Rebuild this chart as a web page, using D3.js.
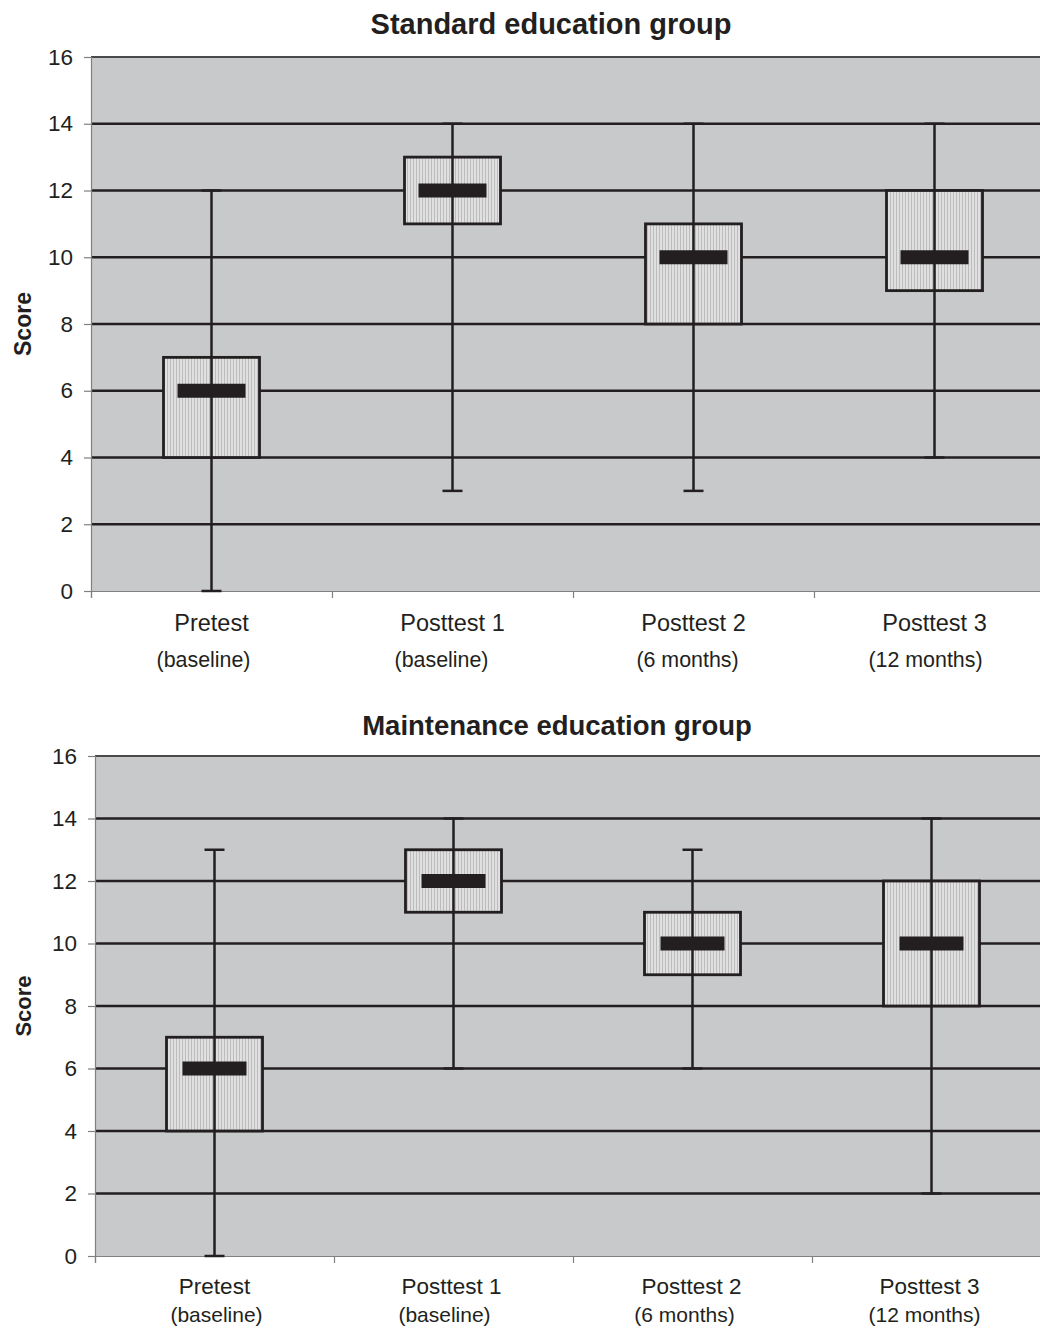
<!DOCTYPE html>
<html><head><meta charset="utf-8">
<script src="https://cdn.jsdelivr.net/npm/d3@7"></script>
<style>body{margin:0;background:#fff;}svg{display:block;font-family:"Liberation Sans",Arial,sans-serif;}</style>
</head><body>
<svg id="c" width="1040" height="1328"></svg>
<script>
const categories = ["Pretest","Posttest 1","Posttest 2","Posttest 3"];
const subLabels = ["(baseline)","(baseline)","(6 months)","(12 months)"];
const yTicks = [0,2,4,6,8,10,12,14,16];
// [min, q1, median, q3, max]
const standardStats = [[0,4,6,7,12],[3,11,12,13,14],[3,8,10,11,14],[4,9,10,12,14]];
const maintenanceStats = [[0,4,6,7,13],[6,11,12,13,14],[6,9,10,11,13],[2,8,10,12,14]];
const titles = ["Standard education group","Maintenance education group"];

const svg = d3.select("#c");
const defs = svg.append("defs");
const pat = defs.append("pattern").attr("id","stripe").attr("patternUnits","userSpaceOnUse").attr("width",3).attr("height",4);
pat.append("rect").attr("width",3).attr("height",4).attr("fill","#e0e0e0");
pat.append("rect").attr("x",2).attr("width",1).attr("height",4).attr("fill","#bcbcbc");

function panel(cfg){
  const g = svg.append("g");
  const x = d3.scaleBand().domain(categories).range([cfg.left, cfg.left+4*cfg.step]);
  const y = d3.scaleLinear().domain([0,16]).range([cfg.bottom, cfg.top]);
  g.append("rect").attr("x",cfg.left).attr("y",cfg.top).attr("width",1040-cfg.left).attr("height",cfg.bottom-cfg.top).attr("fill","#c8c9cb");
  g.selectAll(".grid").data(yTicks.filter(t=>t>0&&t<16)).join("line")
    .attr("x1",cfg.left).attr("x2",1040).attr("y1",d=>y(d)).attr("y2",d=>y(d))
    .attr("stroke","#231f20").attr("stroke-width",2.5);
  g.append("line").attr("x1",cfg.left).attr("x2",1040).attr("y1",y(16)).attr("y2",y(16)).attr("stroke","#4a4a4a").attr("stroke-width",2);
  const ya = g.append("g").attr("transform",`translate(${cfg.left},0)`)
    .call(d3.axisLeft(y).tickValues(yTicks).tickSize(7).tickPadding(cfg.tickPad).tickFormat(d3.format("d")));
  ya.attr("font-size",null).attr("font-family",null);
  ya.select(".domain").attr("stroke","#808080").attr("stroke-width",1.2);
  ya.selectAll(".tick line").attr("stroke","#808080").attr("stroke-width",1.2);
  ya.selectAll("text").style("font-size","22.5px").attr("fill","#231f20");
  const xa = g.append("g").attr("transform",`translate(0,${cfg.bottom})`)
    .call(d3.axisBottom(d3.scaleLinear().domain([0,4]).range([cfg.left,cfg.left+4*cfg.step])).tickValues([0,1,2,3,4]).tickSize(7).tickFormat(""));
  xa.select(".domain").attr("stroke","#808080").attr("stroke-width",1.2);
  xa.selectAll(".tick line").attr("stroke","#808080").attr("stroke-width",1.2);
  g.selectAll(".cl").data(categories).join("text")
    .attr("x",(d,i)=>x(d)+x.bandwidth()/2+cfg.mainOff[i]).attr("y",cfg.bottom+cfg.lab1)
    .attr("text-anchor","middle").attr("font-size",cfg.labSize1).attr("fill","#231f20").text(d=>d);
  g.selectAll(".sl").data(subLabels).join("text")
    .attr("x",(d,i)=>x(categories[i])+x.bandwidth()/2+cfg.subOff[i]).attr("y",cfg.bottom+cfg.lab2)
    .attr("text-anchor","middle").attr("font-size",cfg.labSize2).attr("fill","#231f20").text(d=>d);
  g.append("text").attr("x",cfg.titleX).attr("y",cfg.titleY).attr("text-anchor","middle")
    .attr("font-size",cfg.titleSize).attr("font-weight","bold").attr("fill","#231f20").text(cfg.title);
  g.append("text").attr("transform",`translate(31,${(cfg.top+cfg.bottom)/2}) rotate(-90)`)
    .attr("text-anchor","middle").attr("font-size",cfg.scoreSize).attr("font-weight","bold").attr("fill","#231f20").text("Score");
  const bw = 96, mw = cfg.mw, cw = 20;
  const bx = g.selectAll(".box").data(cfg.stats).join("g");
  const cx = (d,i)=>x(categories[i])+x.bandwidth()/2;
  bx.append("rect").attr("x",(d,i)=>cx(d,i)-bw/2).attr("width",bw)
    .attr("y",d=>y(d[3])).attr("height",d=>y(d[1])-y(d[3]))
    .attr("fill","url(#stripe)").attr("stroke","#231f20").attr("stroke-width",2.8);
  bx.append("line").attr("x1",cx).attr("x2",cx).attr("y1",d=>y(d[0])).attr("y2",d=>y(d[4]))
    .attr("stroke","#231f20").attr("stroke-width",2.5);
  bx.append("line").attr("x1",(d,i)=>cx(d,i)-cw/2).attr("x2",(d,i)=>cx(d,i)+cw/2).attr("y1",d=>y(d[4])).attr("y2",d=>y(d[4]))
    .attr("stroke","#231f20").attr("stroke-width",2.5);
  bx.append("line").attr("x1",(d,i)=>cx(d,i)-cw/2).attr("x2",(d,i)=>cx(d,i)+cw/2).attr("y1",d=>y(d[0])).attr("y2",d=>y(d[0]))
    .attr("stroke","#231f20").attr("stroke-width",2.5);
  bx.append("rect").attr("x",(d,i)=>cx(d,i)-mw/2).attr("width",mw)
    .attr("y",d=>y(d[2])-7).attr("height",14).attr("fill","#231f20");
}

panel({left:91, step:241, top:57, bottom:591, tickPad:11, stats:standardStats, title:titles[0],
  titleX:551, titleY:34, titleSize:29, scoreSize:23, mw:68, lab1:40, lab2:76, labSize1:23.5, labSize2:21.4,
  mainOff:[0,0,0,0], subOff:[-8,-11,-6,-9]});
panel({left:95, step:239, top:756, bottom:1256, tickPad:11, stats:maintenanceStats, title:titles[1],
  titleX:557, titleY:735, titleSize:27.5, scoreSize:22, mw:64, lab1:38, lab2:66, labSize1:22.5, labSize2:21,
  mainOff:[0,-2,-1,-2], subOff:[2,-9,-8,-7]});
</script>
</body></html>
